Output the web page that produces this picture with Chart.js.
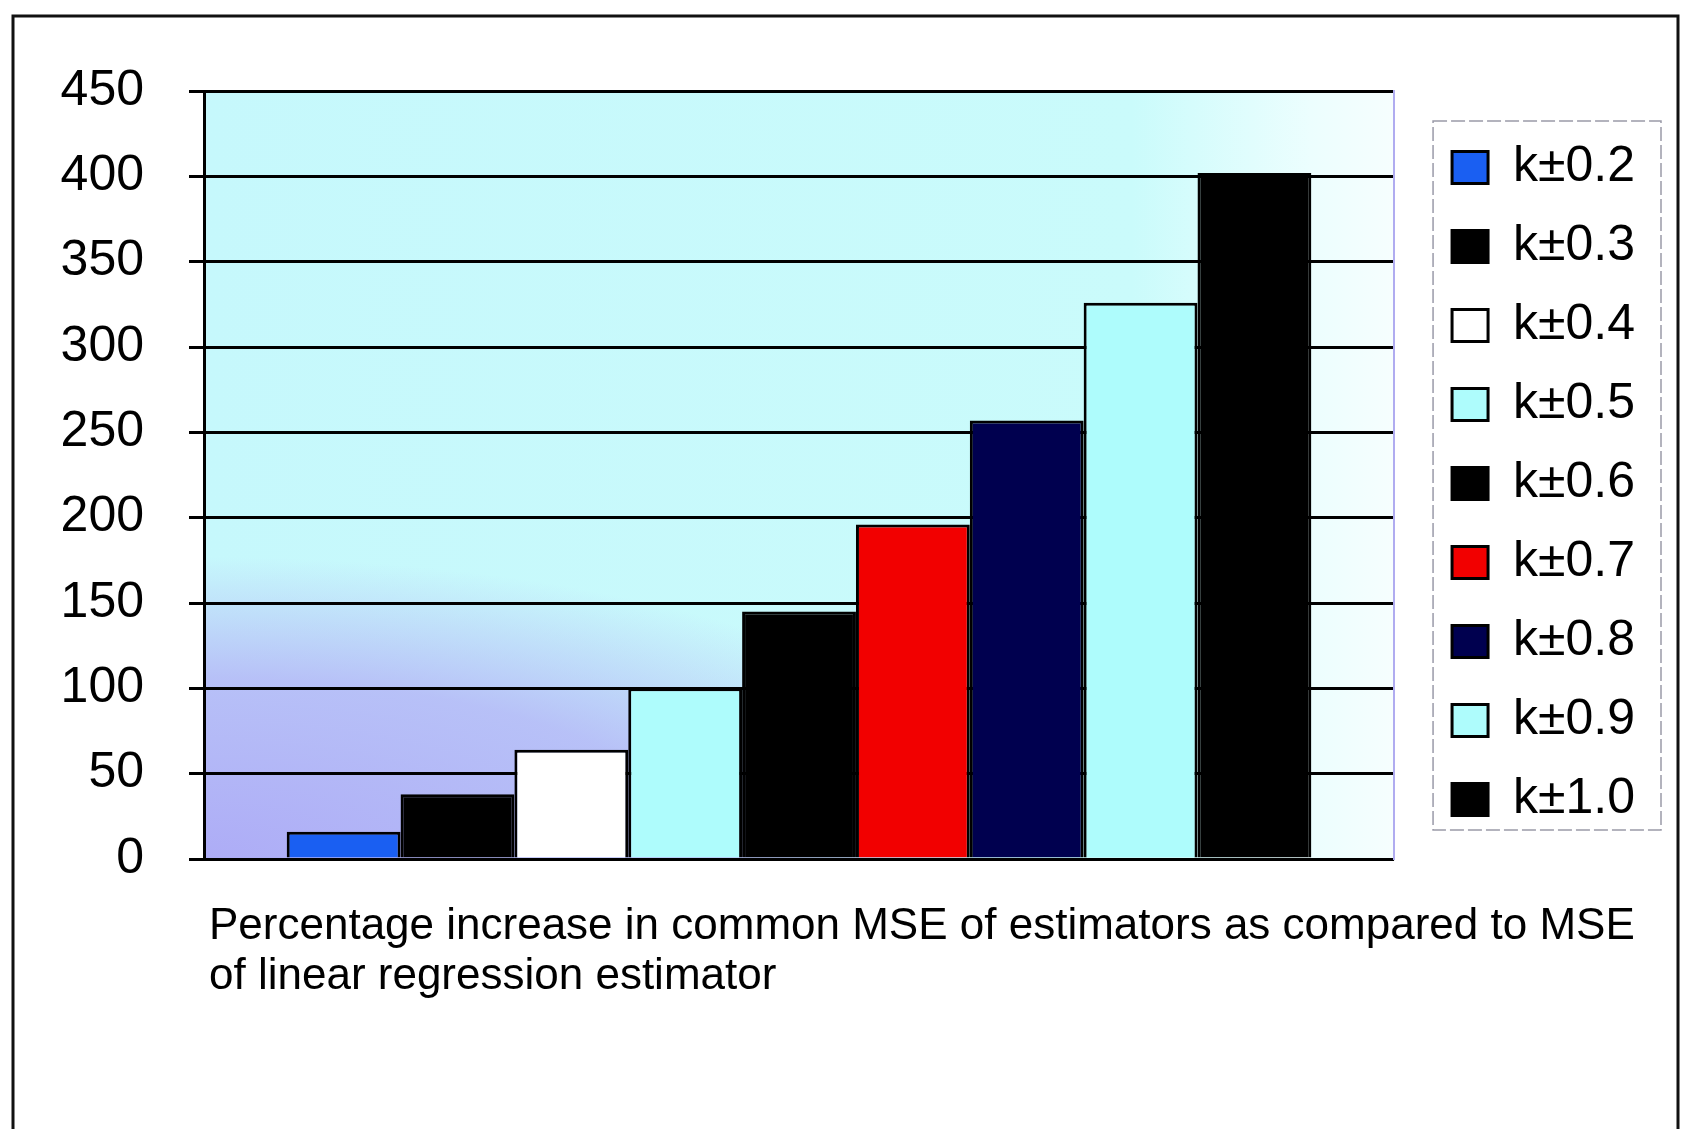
<!DOCTYPE html>
<html>
<head>
<meta charset="utf-8">
<script src="https://cdn.jsdelivr.net/npm/chart.js@4.4.1/dist/chart.umd.min.js"></script>
<style>
  html, body { margin: 0; padding: 0; background: #fff; }
  #wrap { width: 1683px; height: 1129px; }
</style>
</head>
<body>
<div id="wrap"><canvas id="chart" width="1683" height="1129"></canvas></div>
<script>
// one unnamed category, one dataset per k value
const categories = [''];
const seriesLabels = ['k±0.2', 'k±0.3', 'k±0.4', 'k±0.5', 'k±0.6', 'k±0.7', 'k±0.8', 'k±0.9', 'k±1.0'];
const seriesValues = [16, 38, 64, 100, 145, 196, 257, 326, 402];
const seriesColors = ['#1a5ff2', '#000000', '#ffffff', '#aefcfc', '#000000', '#f20000', '#00004f', '#aefcfc', '#000000'];
const yTickValues = [0, 50, 100, 150, 200, 250, 300, 350, 400, 450];
const xTitleLines = [
  'Percentage increase in common MSE of estimators as compared to MSE',
  'of linear regression estimator'
];

const fontFamily = "'Liberation Sans', Arial, sans-serif";

/********* decorations *************/

const frame = {
  id: 'frame',
  beforeDraw(chart) {
    const ctx = chart.ctx;
    ctx.save();
    ctx.strokeStyle = '#111';
    ctx.lineWidth = 3;
    ctx.beginPath();
    ctx.moveTo(13, chart.height + 5);
    ctx.lineTo(13, 16);
    ctx.lineTo(1678, 16);
    ctx.lineTo(1678, chart.height + 5);
    ctx.stroke();
    ctx.restore();
  }
};

const plotBackground = {
  id: 'plotBackground',
  beforeDraw(chart) {
    const {ctx, chartArea: a} = chart;
    ctx.save();
    const g = ctx.createLinearGradient(a.left, 0, a.right, 0);
    g.addColorStop(0, '#c6f8fc');
    g.addColorStop(0.78, '#cafbfb');
    g.addColorStop(0.93, '#ecfefe');
    g.addColorStop(1, '#f6fefe');
    ctx.fillStyle = g;
    ctx.fillRect(a.left, a.top, a.width, a.height);

    // lavender patch lower left
    ctx.translate(a.left, a.bottom);
    ctx.scale(1, 0.36);
    const r = ctx.createRadialGradient(0, 0, 0, 0, 0, 840);
    r.addColorStop(0, 'rgba(172,168,246,0.95)');
    r.addColorStop(0.6, 'rgba(178,174,246,0.75)');
    r.addColorStop(1, 'rgba(180,176,246,0)');
    ctx.fillStyle = r;
    ctx.fillRect(0, -3 * a.height, a.width, 3 * a.height);
    ctx.restore();
  }
};

const legendBox = {
  id: 'legendBox',
  afterDraw(chart) {
    const {ctx, legend, chartArea: a} = chart;
    ctx.save();
    ctx.strokeStyle = '#9a9aa8';
    ctx.lineWidth = 1.5;
    ctx.setLineDash([14, 4]);
    ctx.strokeRect(legend.left + 10, a.top + 30, legend.right + 16 - (legend.left + 10), a.bottom - 29 - (a.top + 30));
    ctx.restore();
  }
};

// the axis title runs past the plot on the right, so give it room
const wideTitle = {
  id: 'wideTitle',
  afterLayout(chart) {
    const x = chart.scales.x;
    x.left += 5;
    x.right = chart.width;
  }
};

/********* chart *************/

const datasets = seriesLabels.map((label, i) => ({
  label: label,
  data: [seriesValues[i]],
  backgroundColor: seriesColors[i],
  borderColor: '#000',
  borderWidth: 3
}));

const ctx = document.getElementById('chart').getContext('2d');
const myChart = new Chart(ctx, {
  type: 'bar',
  data: { labels: categories, datasets: datasets },
  plugins: [frame, plotBackground, legendBox, wideTitle],
  options: {
    responsive: false,
    animation: false,
    layout: { padding: { left: 20, top: 91, right: 38, bottom: 127 } },
    datasets: { bar: { categoryPercentage: 0.861, barPercentage: 1 } },
    plugins: {
      legend: {
        position: 'right',
        fullSize: false,
        align: 'center',
        title: { display: true, text: '', padding: 0, font: { size: 17, lineHeight: 1 } },
        labels: {
          boxWidth: 36,
          boxHeight: 32,
          padding: 29,
          color: '#000',
          font: { family: fontFamily, size: 50 }
        }
      },
      tooltip: { enabled: false }
    },
    scales: {
      x: {
        grid: { display: false, drawTicks: false },
        border: { display: false },
        ticks: { display: false },
        title: {
          display: true,
          text: xTitleLines,
          align: 'start',
          color: '#000',
          font: { family: fontFamily, size: 44, lineHeight: '50px' },
          padding: { top: 43, bottom: 0 }
        },
        afterFit(scale) { scale.height = 143; }
      },
      y: {
        min: 0,
        max: 450,
        afterBuildTicks(scale) { scale.ticks = yTickValues.map(v => ({ value: v })); },
        grid: { color: '#000', lineWidth: 3, tickLength: 15, tickColor: '#000', tickWidth: 3 },
        border: { color: '#000', width: 3 },
        ticks: { padding: 45, color: '#000', font: { family: fontFamily, size: 50 } },
        afterFit(scale) { scale.width = 184; }
      },
      yPad: {
        position: 'right',
        grid: { display: false, drawTicks: false },
        ticks: { display: false },
        border: { display: true, color: '#b0acf0', width: 2 },
        afterFit(scale) { scale.width = 29; }
      }
    }
  }
});
</script>
</body>
</html>
